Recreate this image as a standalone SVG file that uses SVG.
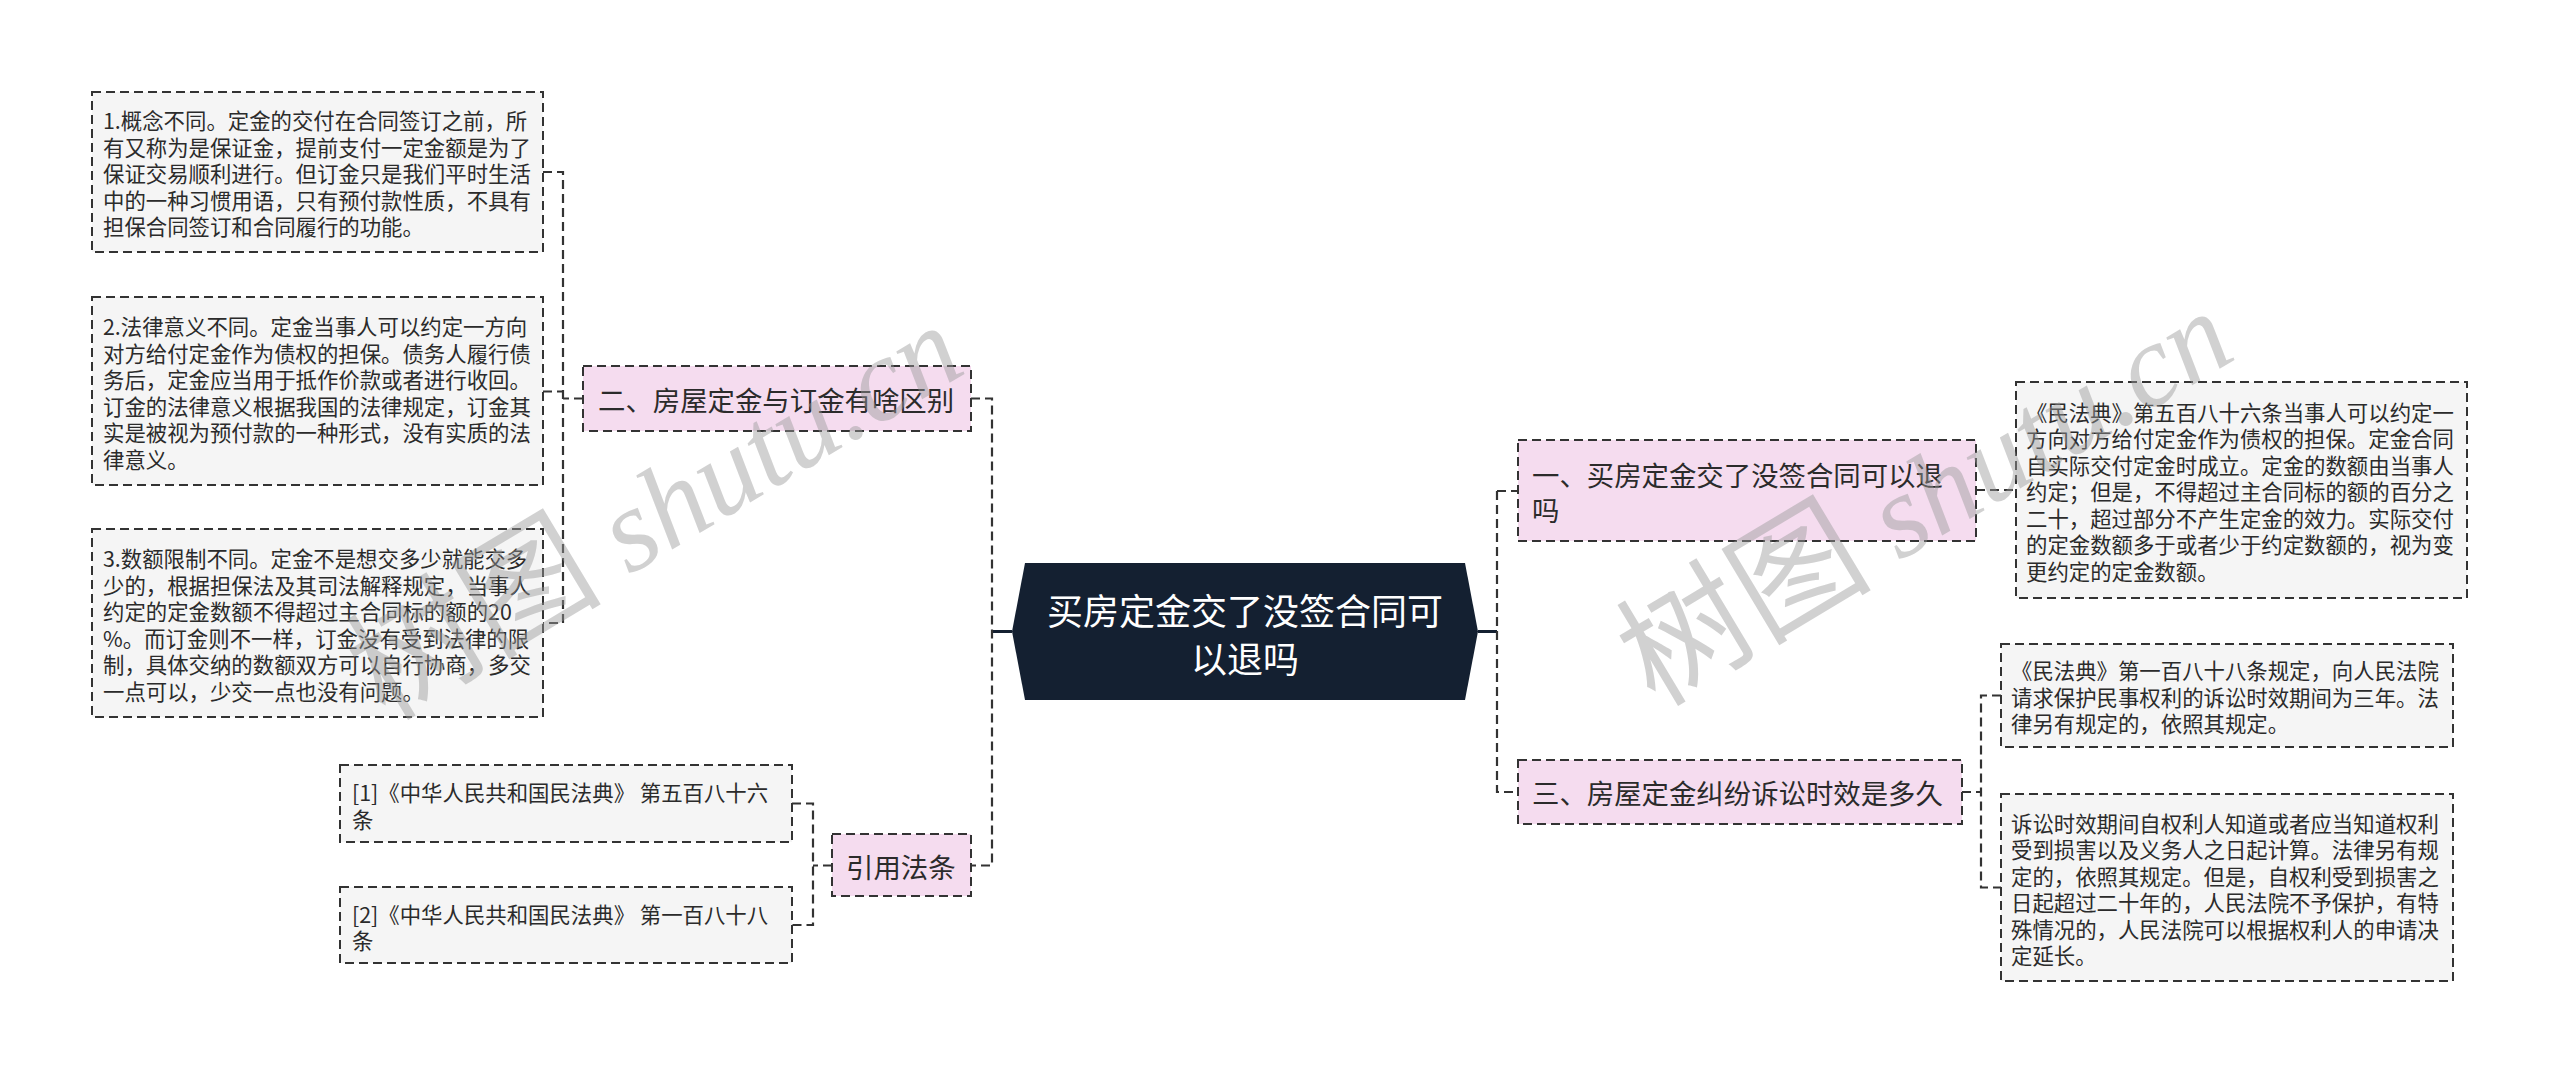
<svg xmlns="http://www.w3.org/2000/svg" width="2560" height="1074" viewBox="0 0 2560 1074">
<style>
text{font-family:"Noto Sans CJK SC","Noto Sans",sans-serif;fill:#2b2b2b;dominant-baseline:central}
.leaf{fill:#f5f5f5;stroke:#333;stroke-width:2;stroke-dasharray:9 5}
.sub{fill:#f5dcef;stroke:#333;stroke-width:2;stroke-dasharray:9 5}
.t{font-size:21.4px}
.s{font-size:27.4px}
.c{font-size:36px;fill:#ffffff}
.conn path{fill:none;stroke:#333;stroke-width:2.2;stroke-dasharray:9 5}
.conn path.solid{stroke:#142031;stroke-width:3;stroke-dasharray:none}
.wm{font-size:128px;fill:#9a9a9a;fill-opacity:0.45;dominant-baseline:alphabetic}
.wm .en{font-family:"Liberation Serif",serif;font-style:italic;font-size:118px}
</style>
<rect width="2560" height="1074" fill="#ffffff"/>
<g class="conn">
<path class="solid" d="M1012 631.5H992"/>
<path class="solid" d="M1478 631.5H1497"/>
<path d="M971 398.5H992V865.5H971"/>
<path d="M1497 491H1518M1497 491V792H1518"/>
<path d="M583 398.5H563M543 172H563V623H543M543 391.5H563"/>
<path d="M832 865.5H813M792 803.5H813V925H792"/>
<path d="M1976 490H2016"/>
<path d="M1962 792H1981M2001 695.5H1981V887.5H2001"/>
</g>
<g id="center">
<polygon points="1025,563 1465,563 1478,631.5 1465,700 1025,700 1012,631.5" fill="#142031"/>
<text class="c" x="1245" y="609" text-anchor="middle">买房定金交了没签合同可</text>
<text class="c" x="1245" y="657" text-anchor="middle">以退吗</text>
</g>
<g id="n2">
<rect class="sub" x="583" y="366" width="388" height="65"/>
<text class="s" x="598" y="399">二、房屋定金与订金有啥区别</text>
</g>
<g id="n2a">
<rect class="leaf" x="92" y="92" width="451" height="160"/>
<text class="t" x="103"><tspan x="103" y="119">1.概念不同。定金的交付在合同签订之前，所</tspan><tspan x="103" y="145.5">有又称为是保证金，提前支付一定金额是为了</tspan><tspan x="103" y="172">保证交易顺利进行。但订金只是我们平时生活</tspan><tspan x="103" y="198.5">中的一种习惯用语，只有预付款性质，不具有</tspan><tspan x="103" y="225">担保合同签订和合同履行的功能。</tspan></text>
</g>
<g id="n2b">
<rect class="leaf" x="92" y="297" width="451" height="188"/>
<text class="t" x="103"><tspan x="103" y="325">2.法律意义不同。定金当事人可以约定一方向</tspan><tspan x="103" y="351.5">对方给付定金作为债权的担保。债务人履行债</tspan><tspan x="103" y="378">务后，定金应当用于抵作价款或者进行收回。</tspan><tspan x="103" y="404.5">订金的法律意义根据我国的法律规定，订金其</tspan><tspan x="103" y="431">实是被视为预付款的一种形式，没有实质的法</tspan><tspan x="103" y="457.5">律意义。</tspan></text>
</g>
<g id="n2c">
<rect class="leaf" x="92" y="529" width="451" height="188"/>
<text class="t" x="103"><tspan x="103" y="557">3.数额限制不同。定金不是想交多少就能交多</tspan><tspan x="103" y="583.5">少的，根据担保法及其司法解释规定，当事人</tspan><tspan x="103" y="610">约定的定金数额不得超过主合同标的额的20</tspan><tspan x="103" y="636.5">%。而订金则不一样，订金没有受到法律的限</tspan><tspan x="103" y="663">制，具体交纳的数额双方可以自行协商，多交</tspan><tspan x="103" y="689.5">一点可以，少交一点也没有问题。</tspan></text>
</g>
<g id="n4">
<rect class="sub" x="832" y="834" width="139" height="62"/>
<text class="s" x="846" y="866">引用法条</text>
</g>
<g id="n4a">
<rect class="leaf" x="340" y="765" width="452" height="77"/>
<text class="t" x="352"><tspan x="352" y="791">[1]《中华人民共和国民法典》 第五百八十六</tspan><tspan x="352" y="817.5">条</tspan></text>
</g>
<g id="n4b">
<rect class="leaf" x="340" y="887" width="452" height="76"/>
<text class="t" x="352"><tspan x="352" y="912.5">[2]《中华人民共和国民法典》 第一百八十八</tspan><tspan x="352" y="939">条</tspan></text>
</g>
<g id="n1">
<rect class="sub" x="1518" y="440" width="458" height="101"/>
<text class="s"><tspan x="1532" y="473.5">一、买房定金交了没签合同可以退</tspan><tspan x="1532" y="508.5">吗</tspan></text>
</g>
<g id="n1a">
<rect class="leaf" x="2016" y="382" width="451" height="216"/>
<text class="t"><tspan x="2026" y="410.5">《民法典》第五百八十六条当事人可以约定一</tspan><tspan x="2026" y="437">方向对方给付定金作为债权的担保。定金合同</tspan><tspan x="2026" y="463.5">自实际交付定金时成立。定金的数额由当事人</tspan><tspan x="2026" y="490">约定；但是，不得超过主合同标的额的百分之</tspan><tspan x="2026" y="516.5">二十，超过部分不产生定金的效力。实际交付</tspan><tspan x="2026" y="543">的定金数额多于或者少于约定数额的，视为变</tspan><tspan x="2026" y="569.5">更约定的定金数额。</tspan></text>
</g>
<g id="n3">
<rect class="sub" x="1518" y="760" width="444" height="64"/>
<text class="s" x="1532" y="792">三、房屋定金纠纷诉讼时效是多久</text>
</g>
<g id="n3a">
<rect class="leaf" x="2001" y="644" width="452" height="103"/>
<text class="t"><tspan x="2011" y="669">《民法典》第一百八十八条规定，向人民法院</tspan><tspan x="2011" y="695.5">请求保护民事权利的诉讼时效期间为三年。法</tspan><tspan x="2011" y="722">律另有规定的，依照其规定。</tspan></text>
</g>
<g id="n3b">
<rect class="leaf" x="2001" y="794" width="452" height="187"/>
<text class="t"><tspan x="2011" y="821.5">诉讼时效期间自权利人知道或者应当知道权利</tspan><tspan x="2011" y="848">受到损害以及义务人之日起计算。法律另有规</tspan><tspan x="2011" y="874.5">定的，依照其规定。但是，自权利受到损害之</tspan><tspan x="2011" y="901">日起超过二十年的，人民法院不予保护，有特</tspan><tspan x="2011" y="927.5">殊情况的，人民法院可以根据权利人的申请决</tspan><tspan x="2011" y="954">定延长。</tspan></text>
</g>
<g id="watermarks">
<text class="wm" transform="translate(385,722) rotate(-31)">树图 <tspan class="en">shutu.cn</tspan></text>
<text class="wm" transform="translate(1655,708) rotate(-31)">树图 <tspan class="en">shutu.cn</tspan></text>
</g>
</svg>
